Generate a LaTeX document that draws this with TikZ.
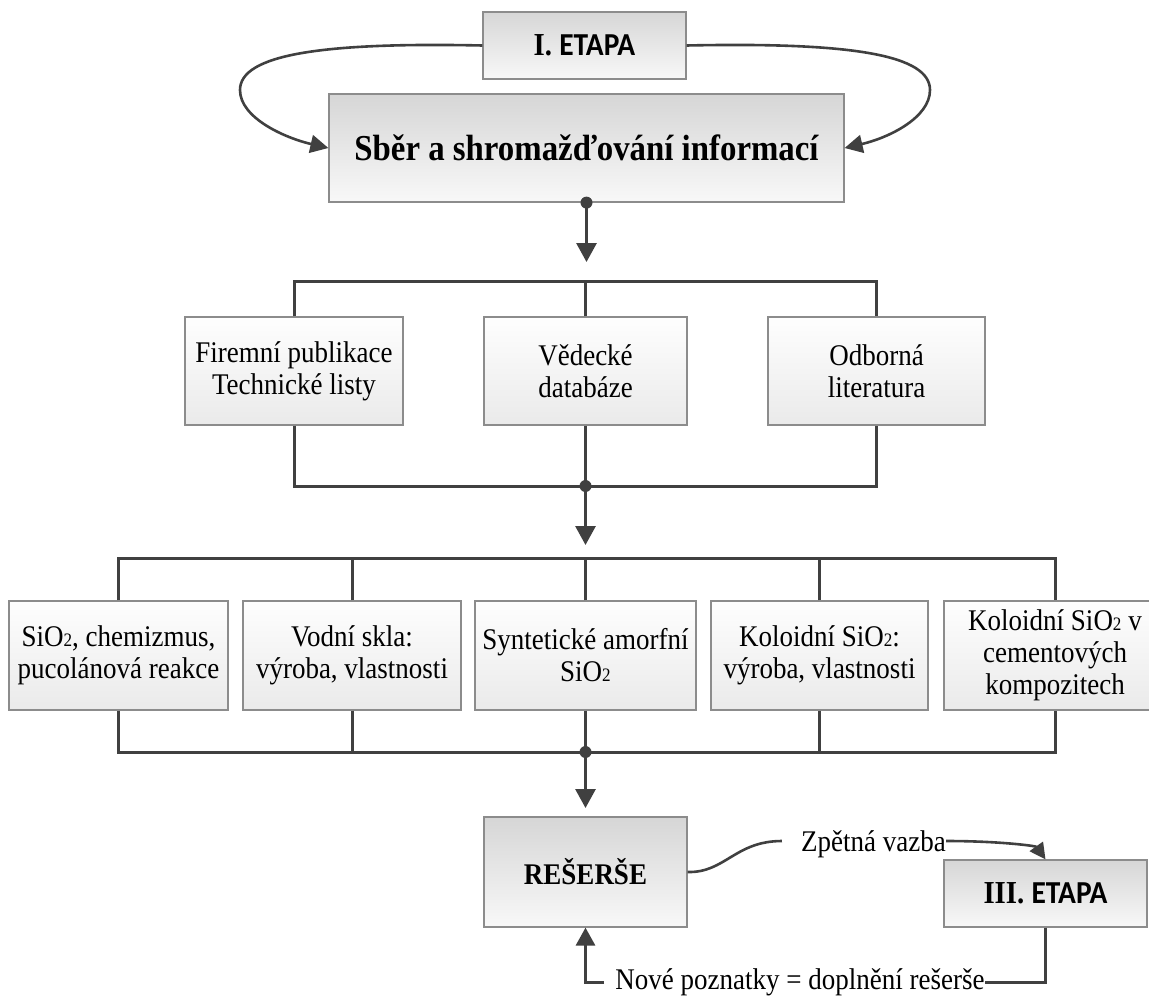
\documentclass[tikz,border=0pt]{standalone}
\usepackage{fontspec}
\setmainfont[FakeStretch=0.9]{Liberation Serif}
\newfontfamily\calib[FakeStretch=0.92]{Carlito}
\usetikzlibrary{arrows.meta,calc}
\definecolor{linec}{HTML}{404040}
\definecolor{bordc}{HTML}{8C8C8C}
\definecolor{maintop}{HTML}{D6D6D6}
\definecolor{mainbot}{HTML}{F8F8F8}
\definecolor{subtop}{HTML}{FEFEFE}
\definecolor{subbot}{HTML}{EAEAEA}
\newcommand{\mysub}[1]{{\fontsize{19}{19}\selectfont #1}}
\begin{document}
\begin{tikzpicture}[x=1pt,y=-1pt,
  mainbox/.style={draw=bordc, line width=1.2pt, top color=maintop, bottom color=mainbot, inner sep=0pt, align=center},
  subbox/.style={draw=bordc, line width=1.2pt, top color=subtop, bottom color=subbot, inner sep=0pt, align=center, font=\fontsize{30}{32}\selectfont},
  conn/.style={draw=linec, line width=3pt},
  curv/.style={draw=linec, line width=2.6pt},
  bigarrow/.style={conn, -{Triangle[length=19pt,width=20pt]}},
  lab/.style={inner sep=0pt, font=\fontsize{30}{32}\selectfont, text depth=0pt},
  dotc/.style={fill=linec}
]
\path[use as bounding box, clip] (0,0) rectangle (1149,996);

% boxes
\node[mainbox, minimum width=203pt, minimum height=67pt] (e1) at (584.5,45.5) {\fontsize{32}{32}\selectfont\bfseries I. {\calib ETAPA}};
\node[mainbox, minimum width=515pt, minimum height=108pt] (sb) at (586.5,148) {\fontsize{36.5}{36.5}\selectfont\bfseries Sběr a shromažďování informací};

\node[subbox, minimum width=218pt, minimum height=108pt] (f1) at (294,371) {Firemní publikace\\Technické listy};
\node[subbox, minimum width=203pt, minimum height=108pt] (f2) at (585.5,371) {Vědecké\\databáze};
\node[subbox, minimum width=217pt, minimum height=108pt] (f3) at (876.5,371) {Odborná\\literatura};

\node[subbox, minimum width=219pt, minimum height=109pt] (r1) at (118.5,655.5) {SiO\mysub{2}, chemizmus,\\pucolánová reakce};
\node[subbox, minimum width=218pt, minimum height=109pt] (r2) at (352,655.5) {Vodní skla:\\výroba, vlastnosti};
\node[subbox, minimum width=221pt, minimum height=109pt] (r3) at (585.5,655.5) {Syntetické amorfní\\SiO\mysub{2}};
\node[subbox, minimum width=217pt, minimum height=109pt] (r4) at (819.5,655.5) {Koloidní SiO\mysub{2}:\\výroba, vlastnosti};
\node[subbox, minimum width=222pt, minimum height=109pt] (r5) at (1055,655.5) {Koloidní SiO\mysub{2} v\\cementových\\kompozitech};

\node[mainbox, minimum width=203pt, minimum height=110pt] (res) at (585.5,872) {\fontsize{30}{30}\selectfont\bfseries REŠERŠE};
\node[mainbox, minimum width=203pt, minimum height=67pt] (e3) at (1045.5,893.5) {\fontsize{32}{32}\selectfont\bfseries III. {\calib ETAPA}};

\node[lab, text height=20pt] (zp) at (873.5,841) {Zpětná vazba};
\node[lab, text height=14pt] (np) at (800,982) {Nové poznatky = doplnění rešerše};

% coordinates
\coordinate (t1) at (586.5,262);
\coordinate (b1) at (585.5,281);
\coordinate (b2) at (585.5,486);
\coordinate (t2) at (585.5,545);
\coordinate (b3) at (585.5,558);
\coordinate (b4) at (585.5,752);
\coordinate (t4) at (585.5,808);

% top loop
\draw[curv, -{Triangle[length=18pt,width=18pt]}] (e1.west) .. controls (320,42) and (240,55) .. (240,90) .. controls (240,118) and (285,138) .. (sb.west);
\draw[curv, -{Triangle[length=18pt,width=18pt]}] (e1.east) .. controls (852,42) and (930,55) .. (930,90) .. controls (930,118) and (888,138) .. (sb.east);

% sb -> row 2
\draw[bigarrow] (sb.south) -- (t1);
\fill[dotc] (sb.south) circle[radius=6pt];
\draw[conn] (f1.north) |- (b1) -| (f3.north);
\draw[conn] (f2.north) -- (b1);
\draw[conn] (f1.south) |- (b2) -| (f3.south);
\draw[conn] (f2.south) -- (b2);
\draw[bigarrow] (b2) -- (t2);
\fill[dotc] (b2) circle[radius=6pt];

% row 3
\draw[conn] (r1.north) |- (b3) -| (r5.north);
\draw[conn] (r2.north) -- (r2.north |- b3);
\draw[conn] (r3.north) -- (b3);
\draw[conn] (r4.north) -- (r4.north |- b3);
\draw[conn] (r1.south) |- (b4) -| (r5.south);
\draw[conn] (r2.south) -- (r2.south |- b4);
\draw[conn] (r3.south) -- (b4);
\draw[conn] (r4.south) -- (r4.south |- b4);
\draw[bigarrow] (b4) -- (t4);
\fill[dotc] (b4) circle[radius=6pt];

% feedback
\draw[curv] (res.east) .. controls (725,873) and (735,841) .. ([xshift=-19pt]zp.west);
\draw[curv, -{Triangle[length=16pt,width=16pt]}] (zp.east) .. controls (1000,841) and (1036,846) .. (e3.north);
\draw[conn] (e3.south) |- (np.east);
\draw[conn, -{Triangle[length=18pt,width=19pt]}] ([xshift=-11pt]np.west) -| (res.south);
\end{tikzpicture}
\end{document}
